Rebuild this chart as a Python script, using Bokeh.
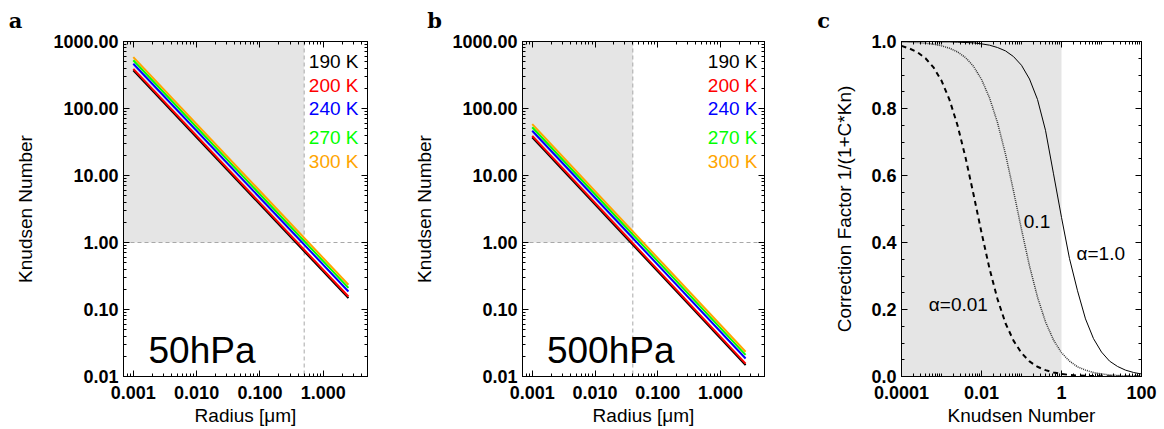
from bokeh.plotting import figure
from bokeh.layouts import row
from bokeh.models import (FixedTicker, PrintfTickFormatter, LogAxis, LinearAxis,
                          BoxAnnotation, Span, Label, CustomJSTickFormatter, Range1d)
from bokeh.embed import file_html
from bokeh.resources import INLINE

# ---------------- data ----------------
temps = ["190 K", "200 K", "240 K", "270 K", "300 K"]
temp_colors = ["#000000", "#ff0000", "#0000ff", "#00ff00", "#ffa500"]

radius_um = [0.001, 2.5]
# Knudsen number at the two radii, 50 hPa
kn_50hpa_190 = [370.0, 0.148]
kn_50hpa_200 = [390.0, 0.156]
kn_50hpa_240 = [465.0, 0.186]
kn_50hpa_270 = [525.0, 0.210]
kn_50hpa_300 = [585.0, 0.234]
# Knudsen number at the two radii, 500 hPa
kn_500hpa_190 = [37.0, 0.0148]
kn_500hpa_200 = [39.0, 0.0156]
kn_500hpa_240 = [46.5, 0.0186]
kn_500hpa_270 = [52.5, 0.0210]
kn_500hpa_300 = [58.5, 0.0234]

kn_limit = 1.0
r_limit_50hpa = 0.5
r_limit_500hpa = 0.04

knudsen = [1e-4, 1.585e-4, 2.512e-4, 3.981e-4, 6.31e-4,
           1e-3, 1.585e-3, 2.512e-3, 3.981e-3, 6.31e-3,
           0.01, 0.01585, 0.02512, 0.03981, 0.0631,
           0.1, 0.1585, 0.2512, 0.3981, 0.631,
           1.0, 1.585, 2.512, 3.981, 6.31,
           10.0, 15.85, 25.12, 39.81, 63.1, 100.0]
corr_alpha_001 = [0.987, 0.979, 0.968, 0.950, 0.923, 0.883, 0.826, 0.750, 0.654, 0.544,
                  0.430, 0.322, 0.231, 0.159, 0.107, 0.070, 0.045, 0.029, 0.019, 0.012,
                  0.0075, 0.0047, 0.0030, 0.0019, 0.0012, 0.00075, 0.00047, 0.0003,
                  0.00019, 0.00012, 0.000075]
corr_alpha_01 = [0.999, 0.998, 0.997, 0.995, 0.992, 0.987, 0.980, 0.969, 0.952, 0.926,
                 0.887, 0.832, 0.758, 0.664, 0.554, 0.439, 0.330, 0.237, 0.163, 0.109,
                 0.071, 0.046, 0.029, 0.019, 0.012, 0.0075, 0.0047, 0.0030, 0.0019,
                 0.0012, 0.00075]
corr_alpha_1 = [1.000, 1.000, 1.000, 1.000, 1.000, 0.999, 0.999, 0.998, 0.997, 0.996,
                0.993, 0.989, 0.982, 0.972, 0.955, 0.929, 0.888, 0.827, 0.735, 0.605,
                0.475, 0.352, 0.256, 0.172, 0.113, 0.073, 0.046, 0.030, 0.019, 0.012,
                0.0075]

radius_ticks = [0.001, 0.01, 0.1, 1.0]
kn_ticks = [0.01, 0.1, 1.0, 10.0, 100.0, 1000.0]
knudsen_ticks_c = [0.0001, 0.01, 1.0, 100.0]
corr_ticks = [0.0, 0.2, 0.4, 0.6, 0.8, 1.0]

FONT = "Liberation Sans"
GRAY = "#e5e5e5"


def log_minor(lo_exp, hi_exp):
    return [k * 10.0 ** e for e in range(lo_exp, hi_exp + 1) for k in range(1, 10)]


def style_axis(ax, show=True):
    ax.axis_line_color = "black"
    ax.major_tick_in = 6
    ax.major_tick_out = 0
    ax.minor_tick_in = 3
    ax.minor_tick_out = 0
    ax.major_tick_line_color = "black"
    ax.minor_tick_line_color = "black"
    ax.major_label_text_font = FONT
    ax.major_label_text_font_size = "18px"
    ax.major_label_text_font_style = "bold"
    ax.major_label_text_color = "black"
    ax.axis_label_text_font = FONT
    ax.axis_label_text_font_size = "19px"
    ax.axis_label_text_font_style = "normal"
    ax.axis_label_text_color = "black"
    if not show:
        ax.formatter = CustomJSTickFormatter(code="return ''")
        ax.major_label_standoff = 0
        ax.major_label_text_font_size = "1px"


def base_fig(width, left, right, x_type, y_type, xr, yr, letter, letter_x):
    p = figure(width=width, height=429, x_axis_type=x_type, y_axis_type=y_type,
               x_range=xr, y_range=yr, output_backend="svg", toolbar_location=None,
               min_border_left=left, min_border_right=right,
               min_border_top=41, min_border_bottom=53, title=letter)
    p.title.text_font = "DejaVu Serif"
    p.title.text_font_style = "bold"
    p.title.text_font_size = "21px"
    p.title.text_color = "black"
    p.title.align = "left"
    p.title.vertical_align = "top"
    p.title.text_line_height = 0.8
    p.title.offset = letter_x - left
    p.title.standoff = 14
    p.grid.visible = False
    p.outline_line_color = "black"
    p.outline_line_width = 1
    p.background_fill_color = "white"
    p.border_fill_color = "white"
    return p


def add_mirror(p, axis_cls, xticker, yticker):
    top = axis_cls[0](ticker=xticker)
    style_axis(top, show=False)
    p.add_layout(top, "above")
    rgt = axis_cls[1](ticker=yticker)
    style_axis(rgt, show=False)
    p.add_layout(rgt, "right")


def knudsen_panel(width, left, right, series, r_limit, pressure, letter, letter_x, pres_x):
    p = base_fig(width, left, right, "log", "log", Range1d(0.0007, 5.0), Range1d(0.01, 1000.0),
                 letter, letter_x)
    xt = FixedTicker(ticks=radius_ticks, minor_ticks=log_minor(-4, 0))
    yt = FixedTicker(ticks=kn_ticks, minor_ticks=log_minor(-2, 3))
    p.xaxis[0].ticker = xt
    p.yaxis[0].ticker = yt
    p.xaxis[0].formatter = PrintfTickFormatter(format="%.3f")
    p.yaxis[0].formatter = PrintfTickFormatter(format="%.2f")
    style_axis(p.xaxis[0])
    style_axis(p.yaxis[0])
    p.xaxis[0].axis_label = "Radius [μm]"
    p.yaxis[0].axis_label = "Knudsen Number"
    p.xaxis[0].major_label_standoff = 9
    p.xaxis[0].axis_label_standoff = 3
    p.yaxis[0].major_label_standoff = 5
    p.yaxis[0].axis_label_standoff = 14
    add_mirror(p, (LogAxis, LogAxis), xt, yt)

    p.add_layout(BoxAnnotation(right=r_limit, bottom=kn_limit, fill_color=GRAY,
                               fill_alpha=1.0, line_color=None, level="underlay"))
    p.add_layout(Span(location=kn_limit, dimension="width", line_color="#a8a8a8",
                      line_dash="4 3", line_width=1, level="underlay"))
    p.add_layout(Span(location=r_limit, dimension="height", line_color="#a8a8a8",
                      line_dash="4 3", line_width=1, level="underlay"))

    for kn, c in zip(series, temp_colors):
        p.line(radius_um, kn, line_color=c, line_width=2)

    legend_y = [314.7, 291.4, 268.0, 239.0, 214.7]
    for t, c, ly in zip(temps, temp_colors, legend_y):
        p.add_layout(Label(x=235, y=ly, x_units="screen", y_units="screen", text=t,
                           text_align="right", text_baseline="middle", text_font=FONT,
                           text_font_size="19px", text_color=c))
    p.add_layout(Label(x=pres_x, y=25.7, x_units="screen", y_units="screen", text=pressure,
                       text_align="left", text_baseline="alphabetic", text_font=FONT,
                       text_font_size="37px", text_color="black"))
    return p


pa = knudsen_panel(390, 123, 23,
                   [kn_50hpa_190, kn_50hpa_200, kn_50hpa_240, kn_50hpa_270, kn_50hpa_300],
                   r_limit_50hpa, "50hPa", "a", 8.3, 25)
pb = knudsen_panel(390, 132, 16,
                   [kn_500hpa_190, kn_500hpa_200, kn_500hpa_240, kn_500hpa_270, kn_500hpa_300],
                   r_limit_500hpa, "500hPa", "b", 426.7 - 390, 24.4)

# ---------------- panel c ----------------
pc = base_fig(384, 121, 23, "log", "linear", Range1d(0.0001, 100.0), Range1d(0.0, 1.0),
              "c", 816.7 - 780)
xt = FixedTicker(ticks=knudsen_ticks_c, minor_ticks=log_minor(-4, 2))
yt = FixedTicker(ticks=corr_ticks, minor_ticks=[i * 0.05 for i in range(21)])
pc.xaxis[0].ticker = xt
pc.yaxis[0].ticker = yt
pc.xaxis[0].formatter = PrintfTickFormatter(format="%g")
pc.yaxis[0].formatter = PrintfTickFormatter(format="%.1f")
style_axis(pc.xaxis[0])
style_axis(pc.yaxis[0])
pc.xaxis[0].axis_label = "Knudsen Number"
pc.yaxis[0].axis_label = "Correction Factor 1/(1+C*Kn)"
pc.xaxis[0].major_label_standoff = 9
pc.xaxis[0].axis_label_standoff = 3
pc.yaxis[0].major_label_standoff = 5
pc.yaxis[0].axis_label_standoff = 13
add_mirror(pc, (LogAxis, LinearAxis), xt, yt)

pc.add_layout(BoxAnnotation(right=kn_limit, fill_color=GRAY, fill_alpha=1.0,
                            line_color=None, level="underlay"))
pc.line(knudsen, corr_alpha_001, line_color="black", line_width=2, line_dash="5 4")
pc.line(knudsen, corr_alpha_01, line_color="#333333", line_width=1.5, line_dash="1 1")
pc.line(knudsen, corr_alpha_1, line_color="black", line_width=1)

for txt, lx, ly in [("0.1", 122.3, 155.0), ("α=1.0", 175.0, 123.3), ("α=0.01", 27.3, 71.7)]:
    pc.add_layout(Label(x=lx, y=ly, x_units="screen", y_units="screen", text=txt,
                        text_align="left", text_baseline="middle", text_font=FONT,
                        text_font_size="19px", text_color="black"))

layout = row(pa, pb, pc)
open("out.html", "w").write(file_html(layout, INLINE))
